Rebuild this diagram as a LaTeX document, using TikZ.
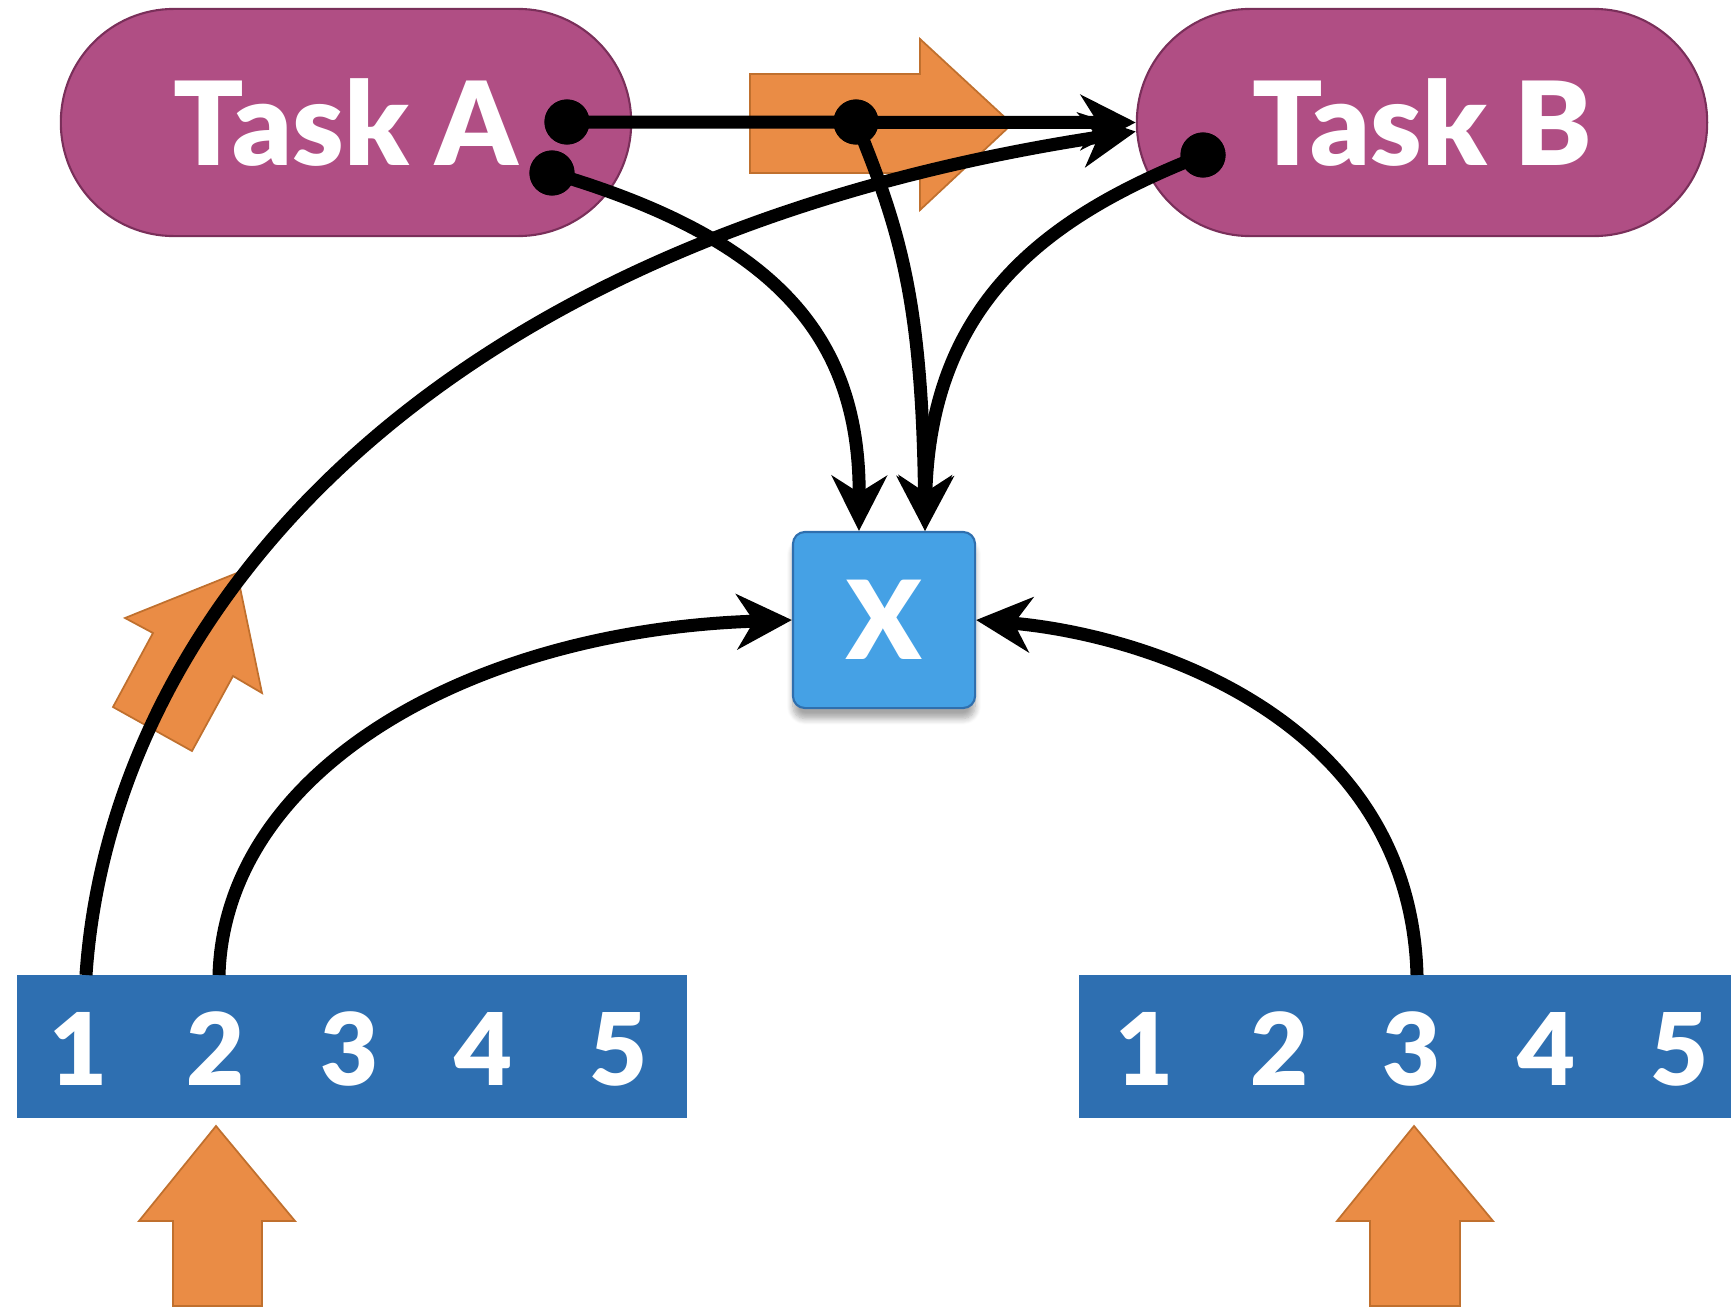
\documentclass[tikz,border=0pt]{standalone}
\usepackage{fontspec}
\IfFontExistsTF{Lato Black}
  {\newfontfamily\heavyfont{Lato Black}}
  {\newfontfamily\heavybase{Lato}\newcommand\heavyfont{\heavybase\bfseries}}
\usetikzlibrary{arrows.meta,calc,shadows.blur}
\definecolor{taskpurple}{HTML}{B04E84}
\definecolor{taskedge}{HTML}{7A2F5A}
\definecolor{barblue}{HTML}{2E6FB1}
\definecolor{boxblue}{HTML}{45A1E5}
\definecolor{boxedge}{HTML}{2F6FAE}
\definecolor{hintorange}{HTML}{EA8C45}
\definecolor{hintedge}{HTML}{C0702E}

\begin{document}
\begin{tikzpicture}[x=0.01cm, y=-0.01cm,
		tasknode/.style={fill=taskpurple, draw=taskedge, line width=0.6pt, rounded corners=1.13cm, minimum width=5.7cm, minimum height=2.27cm, text=white, font=\heavyfont\fontsize{33}{36}\selectfont},
		numnode/.style={text=white, font=\heavyfont\fontsize{28.5}{30}\selectfont, inner sep=0pt},
		barnode/.style={fill=barblue, minimum height=1.43cm, inner sep=0pt},
		dotnode/.style={circle, fill=black, minimum size=0.45cm, inner sep=0pt},
		flow/.style={line width=0.13cm, -{Stealth[length=0.55cm, width=0.55cm, inset=0.17cm]}},
		hint/.style={fill=hintorange, draw=hintedge, line width=0.5pt}
	]
	\useasboundingbox (0,0) rectangle (1731,1306);

	\node[tasknode] (taskA) at (346,122.5) {Task A};
	\node[tasknode] (taskB) at (1422,122.5) {Task B};

	\node[barnode, minimum width=6.7cm] (lbar) at (352,1046.5) {};
	\node[barnode, minimum width=6.52cm] (rbar) at (1405,1046.5) {};

	\node[numnode] (l1) at (79,1049) {1};
	\node[numnode] (l2) at (216,1049) {2};
	\node[numnode] (l3) at (350,1049) {3};
	\node[numnode] (l4) at (484,1049) {4};
	\node[numnode] (l5) at (619,1049) {5};

	\node[numnode] (r1) at (1145,1049) {1};
	\node[numnode] (r2) at (1280,1049) {2};
	\node[numnode] (r3) at (1412,1049) {3};
	\node[numnode] (r4) at (1547,1049) {4};
	\node[numnode] (r5) at (1680,1049) {5};

	\node[fill=boxblue, draw=boxedge, line width=0.6pt, rounded corners=0.12cm, minimum width=1.82cm, minimum height=1.76cm, text=white, font=\heavyfont\fontsize{31}{34}\selectfont, blur shadow={shadow xshift=0pt, shadow yshift=-3pt, shadow blur steps=8, shadow opacity=35}] (xbox) at (884,620) {X};

	\draw[hint] (750,74) -- (920,74) -- (920,39) -- (1012,124) -- (920,210) -- (920,173) -- (750,173) -- cycle;
	\draw[hint] (237,573) -- (262,693) -- (233,676) -- (192,751) -- (113,707) -- (153,633) -- (125,618) -- cycle;
	\draw[hint] (216,1126) -- (295,1221) -- (262,1221) -- (262,1306) -- (173,1306) -- (173,1221) -- (139,1221) -- cycle;
	\draw[hint] (1414,1126) -- (1493,1221) -- (1460,1221) -- (1460,1306) -- (1370,1306) -- (1370,1221) -- (1337,1221) -- cycle;

	\coordinate (out1) at (86,975);
	\coordinate (out2) at (219,975);
	\coordinate (out3) at (1417,975);
	\coordinate (xin1) at ($(xbox.north)+(-25,0)$);
	\coordinate (xin2) at ($(xbox.north)+(41,0)$);
	\coordinate (bin2) at ($(taskB.west)+(0,9)$);

	\node[dotnode] (dotA1) at (567,122) {};
	\node[dotnode] (dotA2) at (552,173) {};
	\node[dotnode] (dotM) at (856,122) {};
	\node[dotnode] (dotB) at (1203,155) {};

	\draw[flow] (dotA1.center) -- (taskB.west);
	\draw[flow] (dotM.center) .. controls (900,230) and (922,300) .. (xin2);
	\draw[flow] (dotA2.center) .. controls (780,240) and (860,340) .. (xin1);
	\draw[flow] (dotB.center) .. controls (1050,215) and (930,300) .. (xin2);
	\draw[flow] (out1) .. controls (110,620) and (420,240) .. (bin2);
	\draw[flow] (out2) .. controls (225,770) and (470,630) .. (xbox.west);
	\draw[flow] (out3) .. controls (1410,720) and (1150,635) .. (xbox.east);

	\node[dotnode] at (dotA1) {};
	\node[dotnode] at (dotA2) {};
	\node[dotnode] at (dotM) {};
	\node[dotnode] at (dotB) {};
\end{tikzpicture}
\end{document}
